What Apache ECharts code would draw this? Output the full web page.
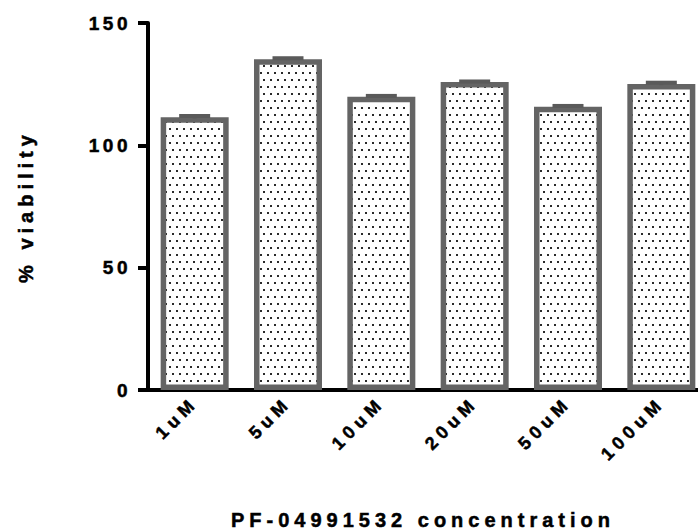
<!DOCTYPE html>
<html>
<head>
<meta charset="utf-8">
<script src="https://cdn.jsdelivr.net/npm/echarts@6/dist/echarts.min.js"></script>
<style>
  html, body { margin: 0; padding: 0; background: #fff; }
  #chart { width: 698px; height: 531px; }
  /* wide tracking, sized per text role */
  #chart svg text { letter-spacing: 5px; }
  #chart svg text[style*="19px"], #chart svg text[font-size="19"], #chart svg text[font-size="19px"] { letter-spacing: 3.5px; }
  #chart svg text[style*="18px"], #chart svg text[font-size="18"], #chart svg text[font-size="18px"] { letter-spacing: 5px; }
</style>
</head>
<body>
<div id="chart"></div>
<script>
// Viability after PF-04991532 treatment (mean ± SEM)
const categories = ['1uM', '5uM', '10uM', '20uM', '50uM', '100uM'];
const viability = [111.5, 135.2, 119.9, 125.9, 115.8, 125.1];
const sem = [0.5, 0.4, 0.3, 0.2, 0.3, 0.5];
const yTicks = [0, 50, 100, 150];

const FONT = '"Liberation Sans", Arial, sans-serif';
const GREY = '#646464';
const CAP = '#5a5a5a';

// dotted fill: staggered rows of small dark dots
function dotPattern() {
  const c = document.createElement('canvas');
  c.width = 7; c.height = 14;
  const g = c.getContext('2d');
  g.fillStyle = '#fff';
  g.fillRect(0, 0, 7, 14);
  g.fillStyle = '#2a2a2a';
  g.fillRect(1, 2, 2, 2);
  g.fillRect(4, 9, 2, 2);
  return c.toDataURL();
}

const textBase = { fontFamily: FONT, fontWeight: 'bold', color: '#000', textBorderColor: '#000', textBorderWidth: 0.5 };

const chart = echarts.init(document.getElementById('chart'), null, { renderer: 'svg' });

chart.setOption({
  animation: false,
  backgroundColor: '#fff',
  grid: { left: 148, right: -10, top: 23, bottom: 141, containLabel: false, outerBoundsMode: 'none' },
  xAxis: {
    type: 'category',
    data: categories,
    name: 'PF-04991532 concentration',
    nameLocation: 'middle',
    nameGap: 120,
    nameTextStyle: Object.assign({ fontSize: 20, padding: [0, 10, 0, 0] }, textBase),
    axisLine: { lineStyle: { color: '#000', width: 4 } },
    axisTick: { alignWithLabel: true, length: 10, lineStyle: { color: '#000', width: 4 } },
    axisLabel: Object.assign({ rotate: 45, margin: 10, fontSize: 18 }, textBase)
  },
  yAxis: {
    type: 'value',
    min: yTicks[0],
    max: yTicks[yTicks.length - 1],
    interval: 50,
    name: '% viability',
    nameLocation: 'middle',
    nameGap: 112,
    nameTextStyle: Object.assign({ fontSize: 20 }, textBase),
    splitLine: { show: false },
    axisLine: { show: true, lineStyle: { color: '#000', width: 4 } },
    axisTick: { show: true, length: 10, lineStyle: { color: '#000', width: 4 } },
    axisLabel: Object.assign({ margin: 17, fontSize: 19 }, textBase)
  },
  series: [
    {
      type: 'bar',
      data: viability,
      barWidth: 68,
      itemStyle: {
        color: { image: dotPattern(), repeat: 'repeat' },
        borderColor: GREY,
        borderWidth: 5.5
      },
      z: 2
    },
    {
      type: 'custom',
      data: viability.map((v, i) => [i, v, sem[i]]),
      z: 3,
      renderItem(params, api) {
        const i = api.value(0), m = api.value(1), e = api.value(2);
        const top = api.coord([i, m + e]);
        const bot = api.coord([i, m - e]);
        const half = 15.5;
        return {
          type: 'group',
          children: [
            { type: 'line', shape: { x1: top[0], y1: top[1], x2: bot[0], y2: bot[1] },
              style: { stroke: CAP, lineWidth: 4 } },
            { type: 'line', shape: { x1: top[0] - half, y1: top[1], x2: top[0] + half, y2: top[1] },
              style: { stroke: CAP, lineWidth: 4 } }
          ]
        };
      }
    }
  ]
});
</script>
</body>
</html>
